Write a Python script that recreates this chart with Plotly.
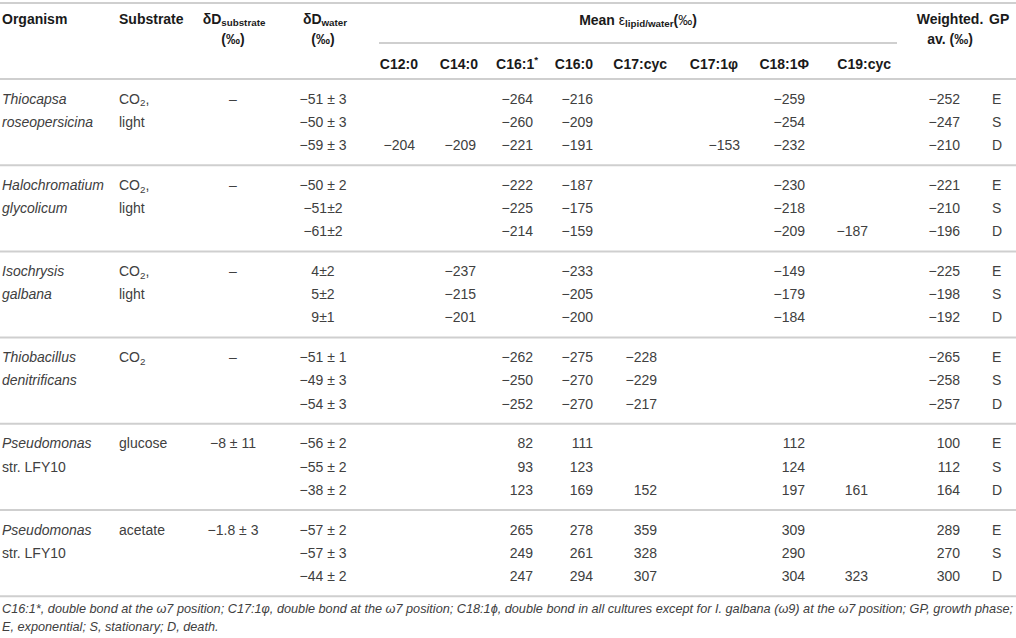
import plotly.graph_objects as go

# ---- table data -------------------------------------------------------
organism_l1 = ["Thiocapsa", "Halochromatium", "Isochrysis", "Thiobacillus", "Pseudomonas", "Pseudomonas"]
organism_l2 = ["roseopersicina", "glycolicum", "galbana", "denitrificans", "str. LFY10", "str. LFY10"]
substrate_l1 = ["CO<sub>2</sub>,", "CO<sub>2</sub>,", "CO<sub>2</sub>,", "CO<sub>2</sub>", "glucose", "acetate"]
substrate_l2 = ["light", "light", "light", "", "", ""]
dD_substrate = ["–", "–", "–", "–", "−8 ± 11", "−1.8 ± 3"]
dD_water = ["−51 ± 3", "−50 ± 3", "−59 ± 3",
            "−50 ± 2", "−51±2", "−61±2",
            "4±2", "5±2", "9±1",
            "−51 ± 1", "−49 ± 3", "−54 ± 3",
            "−56 ± 2", "−55 ± 2", "−38 ± 2",
            "−57 ± 2", "−57 ± 3", "−44 ± 2"]

lipids = ["C12:0", "C14:0", "C16:1<sup>*</sup>", "C16:0", "C17:cyc", "C17:1φ", "C18:1Φ", "C19:cyc"]
N = None
c12_0 = [N, N, -204, N, N, N, N, N, N, N, N, N, N, N, N, N, N, N]
c14_0 = [N, N, -209, N, N, N, -237, -215, -201, N, N, N, N, N, N, N, N, N]
c16_1 = [-264, -260, -221, -222, -225, -214, N, N, N, -262, -250, -252, 82, 93, 123, 265, 249, 247]
c16_0 = [-216, -209, -191, -187, -175, -159, -233, -205, -200, -275, -270, -270, 111, 123, 169, 278, 261, 294]
c17_cyc = [N, N, N, N, N, N, N, N, N, -228, -229, -217, N, N, 152, 359, 328, 307]
c17_1 = [N, N, -153, N, N, N, N, N, N, N, N, N, N, N, N, N, N, N]
c18_1 = [-259, -254, -232, -230, -218, -209, -149, -179, -184, N, N, N, 112, 124, 197, 309, 290, 304]
c19_cyc = [N, N, N, N, N, -187, N, N, N, N, N, N, N, N, 161, N, N, 323]
weighted = [-252, -247, -210, -221, -210, -196, -225, -198, -192, -265, -258, -257, 100, 112, 164, 289, 270, 300]
growth_phase = ["E", "S", "D"] * 6

footnote_l1 = ("C16:1*, double bond at the ω7 position; C17:1φ, double bond at the ω7 position; "
               "C18:1ϕ, double bond in all cultures except for I. galbana (ω9) at the ω7 position; GP, growth phase;")
footnote_l2 = "E, exponential; S, stationary; D, death."

# ---- layout (pixel grid) -------------------------------------------------
W, H = 1016, 638
ROW0, GROUP_STEP, ROW_STEP = 100, 86.2, 23.2
HEAD_LINE = 79
row_y = [ROW0 + GROUP_STEP * (i // 3) + ROW_STEP * (i % 3) for i in range(18)]
group_y = [ROW0 + GROUP_STEP * g for g in range(6)]

FONT = "Liberation Sans, Arial, Helvetica, sans-serif"
DATA_COLOR = "#404040"
HEAD_COLOR = "#1a1a1a"
LINE_COLOR = "#cfcfcf"


def fmt(v):
    if v is None:
        return ""
    return ("−%d" % -v) if v < 0 else str(v)


fig = go.Figure()


def add_text(xs, ys, texts, pos, size=14, color=DATA_COLOR, bold=False):
    # drop empty cells
    pts = [(x, y, t) for x, y, t in zip(xs, ys, texts) if t]
    fig.add_trace(go.Scatter(
        x=[p[0] for p in pts], y=[p[1] for p in pts], text=[p[2] for p in pts],
        mode="text", textposition=pos,
        textfont=dict(family=FONT, size=size, color=color, weight="bold" if bold else "normal"),
        hoverinfo="skip", showlegend=False, cliponaxis=False,
    ))


# organisms and substrates
org1 = ["<i>%s</i>" % s for s in organism_l1]
org2 = [s if s.startswith("str.") else "<i>%s</i>" % s for s in organism_l2]
add_text([2] * 6, group_y, org1, "middle right")
add_text([2] * 6, [y + ROW_STEP for y in group_y], org2, "middle right")
add_text([119] * 6, group_y, substrate_l1, "middle right")
add_text([119] * 6, [y + ROW_STEP for y in group_y], substrate_l2, "middle right")
add_text([233] * 6, group_y, dD_substrate, "middle center")
add_text([323] * 18, row_y, dD_water, "middle center")

# lipid columns (right aligned)
lipid_cols = [c12_0, c14_0, c16_1, c16_0, c17_cyc, c17_1, c18_1, c19_cyc]
lipid_right = [415, 476, 533, 593, 657, 740, 805, 868]
for col, xr in zip(lipid_cols, lipid_right):
    add_text([xr] * 18, row_y, [fmt(v) for v in col], "middle left")
add_text([960] * 18, row_y, [fmt(v) for v in weighted], "middle left")
add_text([992] * 18, row_y, growth_phase, "middle right")

# header
head_right = [418, 478, 538, 593, 667, 738, 809, 891]
add_text(head_right, [65] * 8, lipids, "middle left", color=HEAD_COLOR, bold=True)
add_text([2, 119], [20, 20], ["Organism", "Substrate"], "middle right", color=HEAD_COLOR, bold=True)
add_text([234, 325, 950], [20, 20, 20],
         ["δD<sub>substrate</sub>", "δD<sub>water</sub>", "Weighted."],
         "middle center", color=HEAD_COLOR, bold=True)
add_text([233, 323, 950], [40, 40, 40], ["(‰)", "(‰)", "av. (‰)"],
         "middle center", color=HEAD_COLOR, bold=True)
add_text([989], [20], ["GP"], "middle right", color=HEAD_COLOR, bold=True)
add_text([638], [21], ["<b>Mean </b>ε<sub><b>lipid/water</b></sub><b>(</b>‰<b>)</b>"],
         "middle center", color=HEAD_COLOR)

# footnote
add_text([2, 2], [610, 628], ["<i>%s</i>" % footnote_l1, "<i>%s</i>" % footnote_l2],
         "middle right", size=12.7, color=DATA_COLOR)

# rules
shapes = [dict(type="line", x0=0, x1=W, y0=3, y1=3),
          dict(type="line", x0=379, x1=897, y0=43, y1=43),
          dict(type="line", x0=0, x1=W, y0=HEAD_LINE, y1=HEAD_LINE)]
for g in range(6):
    y = HEAD_LINE + GROUP_STEP * (g + 1)
    shapes.append(dict(type="line", x0=0, x1=W, y0=y, y1=y))
for s in shapes:
    s.update(xref="x", yref="y", line=dict(color=LINE_COLOR, width=2), layer="below")

fig.update_layout(
    width=W, height=H, margin=dict(l=0, r=0, t=0, b=0),
    paper_bgcolor="white", plot_bgcolor="white",
    xaxis=dict(range=[0, W], visible=False, fixedrange=True),
    yaxis=dict(range=[H, 0], visible=False, fixedrange=True),
    shapes=shapes, showlegend=False,
)

# body margin would shift the page by 8px
fig.write_html("out.html", config={"displayModeBar": False},
               post_script="document.body.style.margin='0';")
